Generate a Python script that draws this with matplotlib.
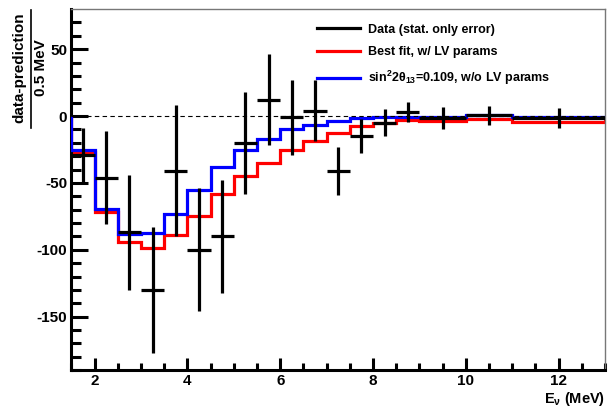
import numpy as np
import matplotlib.pyplot as plt
from matplotlib.lines import Line2D

plt.rcParams['font.family'] = ['Liberation Sans', 'DejaVu Sans']
plt.rcParams['font.weight'] = 'bold'
plt.rcParams['axes.unicode_minus'] = False
plt.rcParams['mathtext.fontset'] = 'custom'
plt.rcParams['mathtext.rm'] = 'Liberation Sans:bold'
plt.rcParams['mathtext.it'] = 'Liberation Sans:bold'
plt.rcParams['mathtext.bf'] = 'Liberation Sans:bold'

# bin edges (MeV)
edges = [1.5, 2.0, 2.5, 3.0, 3.5, 4.0, 4.5, 5.0, 5.5, 6.0, 6.5, 7.0, 7.5, 8.0, 8.5, 9.0, 10.0, 11.0, 13.0]

# data - prediction, stat. errors
data_val = [-29, -46, -87, -130, -41, -100, -90, -20, 12, -1, 4, -41, -15, -5, 3, -1.5, 0.5, -1.7]
data_err = [20, 35, 43, 47, 49, 46, 42, 38, 34, 28, 23, 18, 13, 10, 7.5, 8, 7, 7.5]

# best fit with LV params
best_fit = [-27, -72, -94, -98.5, -89, -74.5, -58, -45, -35, -25.5, -19, -12.7, -7.8, -5.3, -2.8, -3.5, -2.5, -4.3]
# sin^2 2theta13 = 0.109, no LV
no_lv = [-25.5, -69.5, -88, -87.5, -73, -55, -38, -25.5, -17, -10, -6.7, -3.6, -1.8, -1, -0.5, -0.5, 0.5, -0.5]

edges = np.array(edges)
centers = (edges[:-1] + edges[1:]) / 2
half_w = (edges[1:] - edges[:-1]) / 2

fig = plt.figure(figsize=(6.16, 4.09), dpi=100)
ax = fig.add_axes([0.116, 0.095, 0.866, 0.883])

ax.stairs(best_fit, edges, color='red', lw=2.3, zorder=2)
ax.stairs(no_lv, edges, color='blue', lw=2.3, zorder=3)
ax.errorbar(centers, data_val, yerr=data_err, xerr=half_w, fmt='none',
            ecolor='black', elinewidth=2.3, capsize=0, zorder=4)
ax.axhline(0, color='black', lw=0.8, ls=(0, (4, 3)), zorder=5)

ax.set_xlim(1.5, 13)
ax.set_ylim(-190, 80)
ax.set_xticks([2, 4, 6, 8, 10, 12])
ax.set_xticks(np.arange(1.5, 13.01, 0.5), minor=True)
ax.set_yticks([-150, -100, -50, 0, 50])
ax.set_yticks(np.arange(-190, 80, 10), minor=True)
ax.tick_params(which='both', direction='in', width=2.2, labelsize=11)
ax.tick_params(axis='y', which='major', length=12, pad=3)
ax.tick_params(axis='y', which='minor', length=7)
ax.tick_params(axis='x', which='major', length=9, pad=3)
ax.tick_params(axis='x', which='minor', length=5)
for s in ['left', 'bottom']:
    ax.spines[s].set_linewidth(2.2)
for s in ['top', 'right']:
    ax.spines[s].set_linewidth(1.0)
    ax.spines[s].set_color('#777777')
for lab in ax.get_xticklabels() + ax.get_yticklabels():
    lab.set_fontweight('bold')

fig.text(0.982, 0.003, r'E$_{\nu}$ (MeV)', ha='right', va='bottom', fontsize=10.5, fontweight='bold')

# y label as fraction
fig.text(0.032, 0.834, 'data-prediction', rotation=90, ha='center', va='center', fontsize=11, fontweight='bold')
fig.text(0.066, 0.834, '0.5 MeV', rotation=90, ha='center', va='center', fontsize=11, fontweight='bold')
fig.add_artist(Line2D([0.050, 0.050], [0.686, 0.976], color='black', lw=1.2, transform=fig.transFigure))

handles = [Line2D([], [], color='black', lw=2.3),
           Line2D([], [], color='red', lw=2.3),
           Line2D([], [], color='blue', lw=2.3)]
labels = ['Data (stat. only error)', 'Best fit, w/ LV params',
          r'sin$^{2}$2$\theta_{13}$=0.109, w/o LV params']
ax.legend(handles, labels, loc='upper left', bbox_to_anchor=(0.44, 0.99), frameon=False,
          handlelength=3.4, handletextpad=0.65, labelspacing=0.85,
          prop={'weight': 'bold', 'size': 9})

fig.savefig('out.png', dpi=100)
